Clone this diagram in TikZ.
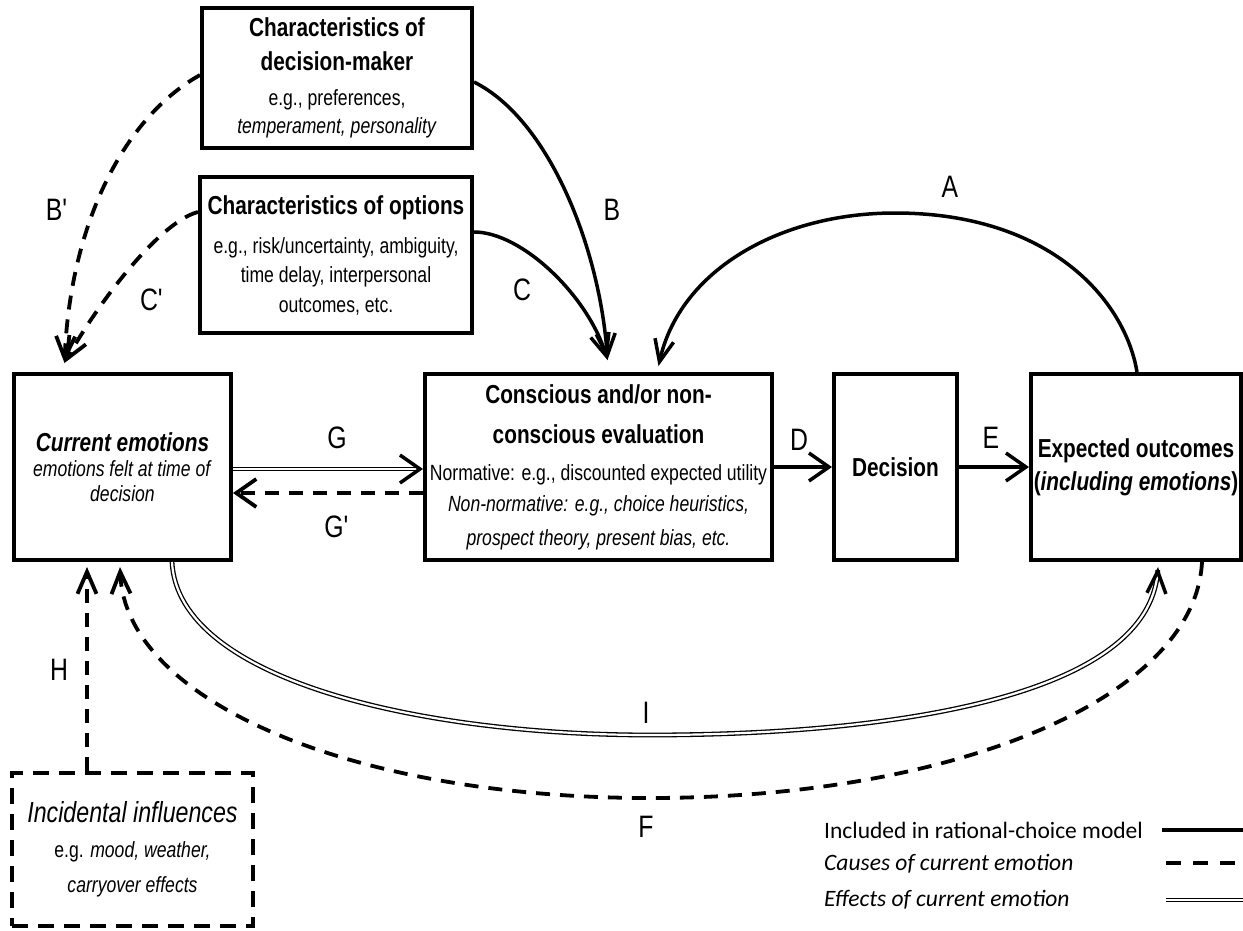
\documentclass[tikz,border=0pt]{standalone}
\usepackage{fontspec}
\setmainfont{Liberation Sans}[FakeStretch=0.8]
\newfontfamily\legfont{Carlito}
\usetikzlibrary{arrows.meta,calc}
\newcommand\ttlf{\fontsize{26}{29}\selectfont\bfseries}
\newcommand\bodyf{\fontsize{22}{29}\selectfont}
\begin{document}
\begin{tikzpicture}[x=1pt,y=-1pt,
  box/.style={draw,line width=4pt,align=center,inner sep=0pt,font=\bodyf},
  dbox/.style={box,dash pattern=on 16pt off 10pt},
  sol/.style={line width=3.5pt},
  dsh/.style={line width=3.8pt,dash pattern=on 14pt off 10pt},
  dbl/.style={double,line width=1.3pt,double distance=2.2pt},
  arrH/.style={-{Straight Barb[length=20pt,width=28pt]}},
  arrV/.style={-{Straight Barb[length=22pt,width=19pt]}},
  lab/.style={font=\fontsize{31}{31}\selectfont,inner sep=0pt},
  leg/.style={font=\legfont\fontsize{23.5}{26}\selectfont,anchor=west,inner sep=0pt}]
\useasboundingbox (0,0) rectangle (1243,930);
\fill[white] (0,0) rectangle (1243,930);

% boxes
\node[box,minimum width=270,minimum height=140] (dm) at (337,78)
  {{\ttlf Characteristics of}\\[5pt]{\ttlf decision-maker}\\[6pt]e.g., preferences,\\[-1pt]\textit{temperament, personality}};
\node[box,minimum width=272,minimum height=156] (opt) at (336,255)
  {{\ttlf Characteristics of options}\\[10pt]e.g., risk/uncertainty, ambiguity,\\[0pt]time delay, interpersonal\\[1pt]outcomes, etc.};
\node[box,minimum width=217,minimum height=186] (cur) at (122.5,467)
  {{\ttlf\itshape Current emotions}\\[-4pt]\textit{emotions felt at time of}\\[-4pt]\textit{decision}};
\node[box,minimum width=347,minimum height=186] (eval) at (598.5,467)
  {{\ttlf Conscious and/or non-}\\[11pt]{\ttlf conscious evaluation}\\[8pt]Normative: e.g., discounted expected utility\\[2pt]\textit{Non-normative: e.g., choice heuristics,}\\[5pt]\textit{prospect theory, present bias, etc.}};
\node[box,minimum width=123,minimum height=186] (dec) at (895.5,467) {{\ttlf Decision}};
\node[box,minimum width=210,minimum height=186] (exp) at (1136,467)
  {{\ttlf Expected outcomes}\\[4pt]{\ttlf(\textit{including emotions})}};
\node[dbox,minimum width=241,minimum height=153] (inc) at (132.5,849)
  {{\fontsize{29}{29}\selectfont\itshape Incidental influences}\\[6pt]e.g. \textit{mood, weather,}\\[6pt]\textit{carryover effects}};

% end coordinates
\coordinate (bc) at ([xshift=9pt,yshift=12pt]eval.north);
\coordinate (ae) at ([xshift=60pt,yshift=6pt]eval.north);
\coordinate (be) at ([xshift=-58pt,yshift=9pt]cur.north);
\coordinate (hs) at ([xshift=-45.5pt]inc.north);
\coordinate (he) at ([xshift=-35.5pt,yshift=-5pt]cur.south);
\coordinate (fe) at ([xshift=-2.5pt,yshift=-5pt]cur.south);
\coordinate (fs) at ([xshift=66pt]exp.south);
\coordinate (is) at ([xshift=49.5pt]cur.south);
\coordinate (ie) at ([xshift=22pt,yshift=-5pt]exp.south);
\coordinate (as) at ([xshift=1pt]exp.north);

% solid arrows
\draw[sol,arrV] ([yshift=-4pt]dm.east) .. controls (550,120) and (600,250) .. (bc);
\draw[sol,arrV] ([yshift=23pt]opt.east) .. controls (522,232) and (588,296) .. (bc);
\draw[sol,arrV] (as) .. controls (1125,300) and (1050,213) .. (895,213)
  .. controls (780,213) and (680,270) .. (ae);
\draw[sol,arrH] (eval.east) -- (dec.west);
\draw[sol,arrH] (dec.east) -- (exp.west);

% dashed arrows
\draw[dsh,arrV] ([yshift=3pt]dm.west) .. controls (120,120) and (70,230) .. (be);
\draw[dsh,arrV] ([yshift=43pt]opt.west) .. controls (160,222) and (100,300) .. (be);
\draw[dsh,arrH] ([yshift=-26pt]eval.west) -- ([yshift=-26pt]cur.east);
\draw[dsh,arrV] (hs) -- (he);
\draw[dsh,arrV] (fs) .. controls (1195,700) and (950,798) .. (650,798)
  .. controls (350,798) and (125,700) .. (fe);

% double arrows
\draw[dbl,shorten >=3pt] ([yshift=-2pt]cur.east) -- ([yshift=-2pt]eval.west);
\draw[sol,arrH] ([xshift=-5pt,yshift=-2pt]eval.west) -- ([yshift=-2pt]eval.west);
\draw[dbl,shorten >=3pt] (is) .. controls (178,680) and (420,735) .. (650,735)
  .. controls (880,735) and (1150,700) .. (ie);
\draw[sol,arrV] ($(ie)!5pt!(1150,700)$) -- (ie);

% labels
\node[lab] (lA) at (950,187) {A};
\node[lab] (lB) at (612,210) {B};
\node[lab] (lBp) at (57,210) {B\textquotesingle};
\node[lab] (lC) at (522,290) {C};
\node[lab] (lCp) at (152,300) {C\textquotesingle};
\node[lab] (lG) at (337,438) {G};
\node[lab] (lGp) at (337,527) {G\textquotesingle};
\node[lab] (lD) at (799,440) {D};
\node[lab] (lE) at (991,438) {E};
\node[lab] (lH) at (59,670) {H};
\node[lab] (lI) at (646,713) {I};
\node[lab] (lF) at (646,827) {F};

% legend
\node[leg] (t1) at (824,830) {Included in rational-choice model};
\node[leg] (t2) at (824,864) {\itshape Causes of current emotion};
\node[leg] (t3) at (824,900) {\itshape Effects of current emotion};
\coordinate (r1) at (1243,830);
\coordinate (r2) at (1243,863);
\coordinate (r3) at (1243,900);
\draw[sol] (1162,830) -- (r1);
\draw[line width=4pt,dash pattern=on 15pt off 12pt] (1166,863) -- (r2);
\draw[dbl] (1166,900) -- (r3);
\end{tikzpicture}
\end{document}
